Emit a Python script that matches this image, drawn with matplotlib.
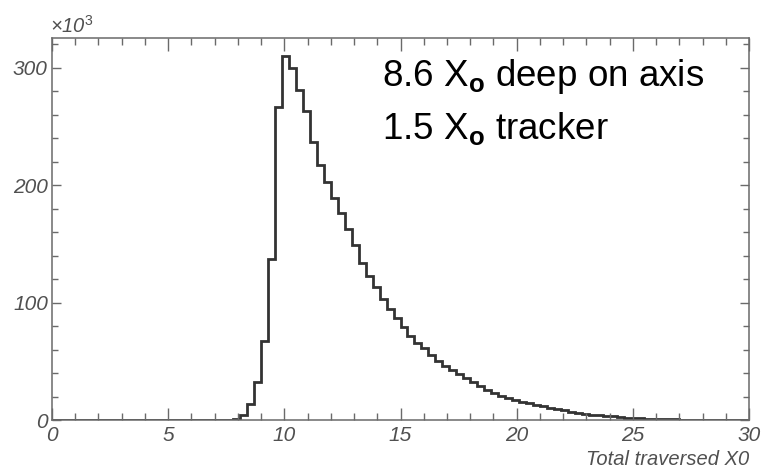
import numpy as np
import matplotlib
matplotlib.use("Agg")
import matplotlib.pyplot as plt
from matplotlib.ticker import MultipleLocator

plt.rcParams['font.family'] = ['Liberation Sans', 'DejaVu Sans']
plt.rcParams['mathtext.fontset'] = 'custom'
plt.rcParams['mathtext.rm'] = 'Liberation Sans'
plt.rcParams['mathtext.it'] = 'Liberation Sans:italic'
plt.rcParams['mathtext.bf'] = 'Liberation Sans:bold'

# histogram: 100 bins between 0 and 30, counts in units of 10^3
x_min, x_max, n_bins = 0.0, 30.0, 100
counts = [0.0] * 26 + [
    1.0, 4.5, 13.5, 32.5, 67, 137, 267, 310, 300, 281,
    263, 237, 217, 203, 189, 176, 163, 149, 134, 123,
    113, 103, 95, 86.5, 79, 72, 66, 61, 55, 50,
    46, 43, 39, 35.5, 32, 28.6, 25.5, 22.7, 20.4, 18.4,
    17.0, 15.6, 14.5, 13.2, 11.8, 10.5, 9.3, 8.2, 7.1, 6.1,
    5.3, 4.6, 4.0, 3.5, 3.0, 2.5, 2.1, 1.7, 1.4, 1.2,
    1.0, 0.8, 0.65, 0.5, 0.4, 0.3, 0.15,
] + [0.0] * 7
edges = np.linspace(x_min, x_max, n_bins + 1)

label_lines = [r"8.6 $\mathrm{X}_{\mathbf{o}}$ deep on axis",
               r"1.5 $\mathrm{X}_{\mathbf{o}}$ tracker"]
x_title = "Total traversed X0"

axis_grey = '#6a6a6a'
label_grey = '#505050'

fig = plt.figure(figsize=(7.62, 4.74), dpi=100)
ax = fig.add_axes([52 / 762, 54 / 474, 697 / 762, 382 / 474])

ax.stairs(counts, edges, color='#333333', linewidth=2.0, baseline=0)

ax.set_xlim(x_min, x_max)
ax.set_ylim(0, max(counts) * 1.05)

ax.xaxis.set_major_locator(MultipleLocator(5))
ax.xaxis.set_minor_locator(MultipleLocator(1))
ax.yaxis.set_major_locator(MultipleLocator(100))
ax.yaxis.set_minor_locator(MultipleLocator(20))

for sp in ax.spines.values():
    sp.set_color(axis_grey)
    sp.set_linewidth(1.1)

ax.tick_params(which='both', direction='in', top=True, right=True,
               colors=axis_grey, labelcolor=label_grey, width=1.0)
ax.tick_params(axis='x', which='major', length=9, labelsize=15, pad=4)
ax.tick_params(axis='x', which='minor', length=5)
ax.tick_params(axis='y', which='major', length=6.5, labelsize=15, pad=3)
ax.tick_params(axis='y', which='minor', length=4)

for lab in ax.get_xticklabels() + ax.get_yticklabels():
    lab.set_fontstyle('italic')

ax.set_xlabel(x_title, fontsize=14.5, fontstyle='italic', color=label_grey,
              loc='right', labelpad=4)

fig.text(50 / 762, 1 - 33 / 474, r"×10$^{\mathit{3}}$", fontsize=14.5,
         fontstyle='italic', color=label_grey, ha='left', va='baseline')

fig.text(382 / 762, 1 - 86 / 474, label_lines[0], fontsize=26.5,
         ha='left', va='baseline', color='black')
fig.text(382 / 762, 1 - 139 / 474, label_lines[1], fontsize=26.5,
         ha='left', va='baseline', color='black')

fig.savefig("out.png", dpi=100)
